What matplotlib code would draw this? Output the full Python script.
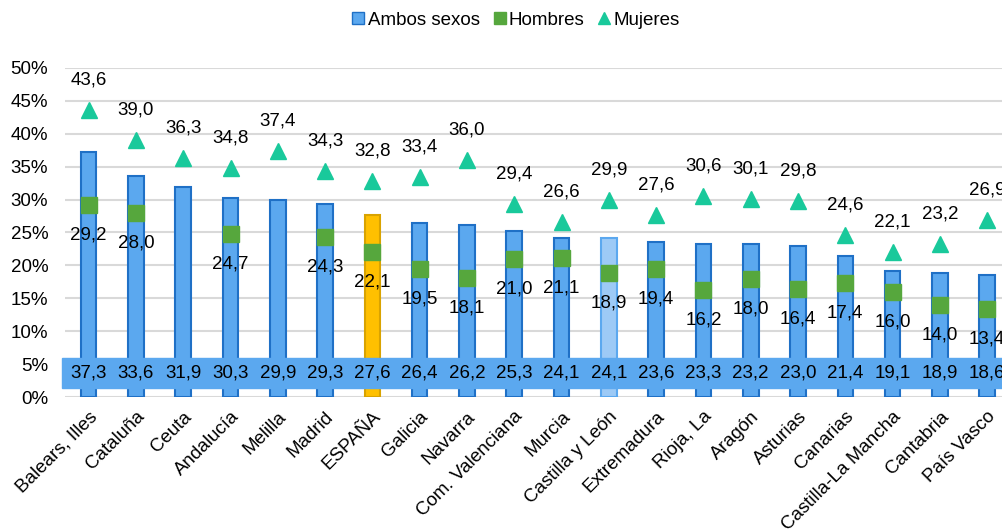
import numpy as np
import matplotlib.pyplot as plt
from matplotlib.patches import Rectangle
from matplotlib.lines import Line2D

plt.rcParams['font.family'] = ['Liberation Sans', 'DejaVu Sans']

regiones = ["Balears, Illes", "Cataluña", "Ceuta", "Andalucía", "Melilla", "Madrid",
            "ESPAÑA", "Galicia", "Navarra", "Com. Valenciana", "Murcia", "Castilla y León",
            "Extremadura", "Rioja, La", "Aragón", "Asturias", "Canarias",
            "Castilla-La Mancha", "Cantabria", "País Vasco"]
ambos = [37.3, 33.6, 31.9, 30.3, 29.9, 29.3, 27.6, 26.4, 26.2, 25.3,
         24.1, 24.1, 23.6, 23.3, 23.2, 23.0, 21.4, 19.1, 18.9, 18.6]
hombres = [29.2, 28.0, None, 24.7, None, 24.3, 22.1, 19.5, 18.1, 21.0,
           21.1, 18.9, 19.4, 16.2, 18.0, 16.4, 17.4, 16.0, 14.0, 13.4]
mujeres = [43.6, 39.0, 36.3, 34.8, 37.4, 34.3, 32.8, 33.4, 36.0, 29.4,
           26.6, 29.9, 27.6, 30.6, 30.1, 29.8, 24.6, 22.1, 23.2, 26.9]

def fmt(v):
    return f"{v:.1f}".replace(".", ",")

azul = '#5BA8EF'
borde = '#1F70C6'
verde = '#56A73D'
turquesa = '#19C99B'
fs = 13.5

fig = plt.figure(figsize=(10.03, 5.29), dpi=100)
ax = fig.add_axes([0.0648, 0.2495, 0.943, 0.622])

x = np.arange(len(regiones))
colores = [azul] * len(regiones)
bordes = [borde] * len(regiones)
colores[regiones.index("ESPAÑA")] = '#FFC000'
bordes[regiones.index("ESPAÑA")] = '#D9A300'
colores[regiones.index("Castilla y León")] = '#9DCAF6'
bordes[regiones.index("Castilla y León")] = '#5BA8EF'

ax.bar(x, ambos, width=0.33, color=colores, edgecolor=bordes, linewidth=1.5, zorder=2)

hx = [i for i, v in enumerate(hombres) if v is not None]
hv = [v for v in hombres if v is not None]
ax.plot(hx, hv, 's', color=verde, markersize=11.5, linestyle='none', zorder=3)
ax.plot(x, mujeres, '^', color=turquesa, markersize=11, linestyle='none', zorder=3)

# banda de etiquetas de ambos sexos
ax.add_patch(Rectangle((-0.56, 1.4), 20.3, 4.5, color=azul, clip_on=False, zorder=4))
for i, v in enumerate(ambos):
    ax.text(i, 3.65, fmt(v), ha='center', va='center', fontsize=fs, zorder=5)

for i, v in zip(hx, hv):
    ax.annotate(fmt(v), (i, v), xytext=(0, -30), textcoords='offset pixels',
                ha='center', va='center', fontsize=fs, zorder=5)
for i, v in enumerate(mujeres):
    ax.annotate(fmt(v), (i, v), xytext=(0, 30), textcoords='offset pixels',
                ha='center', va='center', fontsize=fs, zorder=5)

ax.set_xlim(-0.5, 19.5)
ax.set_ylim(0, 50)
ax.set_yticks(np.arange(0, 51, 5))
ax.set_yticklabels([f"{t}%" for t in range(0, 51, 5)], fontsize=fs)
ax.set_xticks(x)
ax.set_xticklabels(regiones, rotation=45, ha='right', rotation_mode='anchor', fontsize=fs)
ax.tick_params(axis='x', length=0, pad=8)
ax.tick_params(axis='y', length=0, pad=12)
ax.yaxis.grid(True, color='#D9D9D9', linewidth=1.5, zorder=0)
ax.set_axisbelow(True)
for s in ax.spines.values():
    s.set_visible(False)

handles = [
    Line2D([], [], marker='s', color=azul, markeredgecolor=borde, markersize=9, linestyle='none'),
    Line2D([], [], marker='s', color=verde, markersize=9, linestyle='none'),
    Line2D([], [], marker='^', color=turquesa, markersize=9, linestyle='none'),
]
fig.legend(handles, ["Ambos sexos", "Hombres", "Mujeres"], loc='center', bbox_to_anchor=(0.513, 0.962),
           ncol=3, frameon=False, fontsize=fs, handletextpad=0.0, columnspacing=0.55, handlelength=1.0)

fig.savefig("out.png", dpi=100)
